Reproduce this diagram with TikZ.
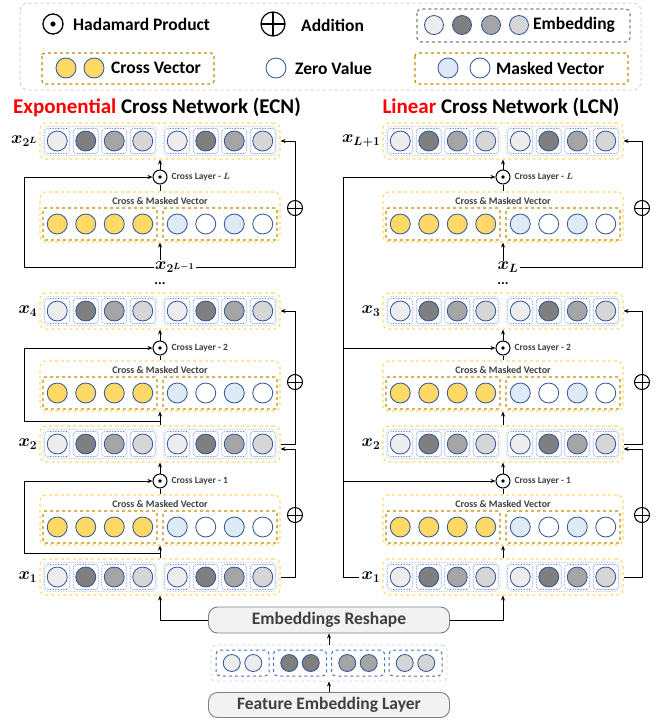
\documentclass[tikz,border=0pt]{standalone}
\usepackage{fontspec}
\setmainfont{Carlito}
\usetikzlibrary{arrows.meta}

\definecolor{gA}{HTML}{EDEDED}
\definecolor{gB}{HTML}{7F7F7F}
\definecolor{gC}{HTML}{A5A5A5}
\definecolor{gD}{HTML}{D6D6D6}
\definecolor{cyel}{HTML}{FFD966}
\definecolor{cblu}{HTML}{DEEBF7}
\definecolor{rim}{HTML}{2F5597}
\definecolor{dotblu}{HTML}{4472C4}
\definecolor{boxgold}{HTML}{BF9000}
\definecolor{boxgray}{HTML}{BFBFBF}
\definecolor{txtgray}{HTML}{404040}

\tikzset{
  unit/.style={circle, draw=rim, line width=0.8pt, minimum size=20pt, inner sep=0pt},
  cell/.style={draw=dotblu, densely dotted, line width=0.6pt, rounded corners=3pt, minimum size=25pt, inner sep=0pt},
  half/.style={draw=boxgray, densely dotted, line width=0.6pt, rounded corners=4pt, minimum width=114pt, minimum height=29pt, inner sep=0pt},
  rowbox/.style={draw=cyel, dashed, line width=1.1pt, rounded corners=6pt, minimum width=240pt, minimum height=36pt, inner sep=0pt},
  crossbox/.style={rowbox, minimum height=50pt},
  goldbox/.style={draw=boxgold, dashed, line width=1.2pt, rounded corners=2pt, minimum width=114pt, minimum height=32pt, inner sep=0pt},
  hada/.style={circle, draw, line width=1pt, minimum size=14pt, inner sep=0pt, fill=white,
    path picture={\fill[black] (path picture bounding box.center) circle (1.8pt);}},
  plus/.style={circle, draw, line width=1pt, minimum size=15pt, inner sep=0pt, fill=white,
    path picture={\draw[black] (path picture bounding box.north) -- (path picture bounding box.south)
      (path picture bounding box.west) -- (path picture bounding box.east);}},
  layertag/.style={anchor=west, inner sep=1pt, text=txtgray, font=\fontsize{9.5}{11}\selectfont\bfseries\boldmath},
  masktag/.style={text=txtgray, font=\fontsize{10}{11}\selectfont\bfseries},
  xlab/.style={inner sep=2pt, font=\fontsize{18.5}{20}\selectfont\boldmath},
  title/.style={font=\fontsize{21}{24}\selectfont\bfseries},
  legtxt/.style={anchor=west, inner sep=1pt, font=\fontsize{17.5}{20}\selectfont\bfseries},
  slab/.style={draw=gray, fill=black!5, line width=0.9pt, rounded corners=9pt, minimum width=241pt,
    minimum height=26pt, text=txtgray, font=\fontsize{17.5}{20}\selectfont\bfseries},
  flow/.style={line width=1pt, -{Stealth[length=5pt,width=4pt]}},
  link/.style={line width=1pt}
}

\newcommand{\embrow}[3]{%
  \node[rowbox] (#1) at (#2,#3) {};
  \node[half] (#1-hl) at (#2-60,#3) {};
  \node[half] (#1-hr) at (#2+60,#3) {};
  \foreach \dx/\fc [count=\i] in {-102.75/gA,-74.25/gB,-45.75/gC,-17.25/gD,17.25/gA,45.75/gB,74.25/gC,102.75/gD}{
    \node[cell] (#1-s\i) at (#2+\dx,#3) {};
    \node[unit, fill=\fc] (#1-\i) at (#2+\dx,#3) {};
  }
}
\newcommand{\crossrow}[3]{%
  \node[crossbox] (#1) at (#2,#3) {};
  \node[masktag] (#1-t) at (#2,#3-16) {Cross \& Masked Vector};
  \node[goldbox] (#1-a) at (#2-60,#3+7) {};
  \node[goldbox] (#1-b) at (#2+60,#3+7) {};
  \foreach \dx/\fc [count=\i] in {-102.75/cyel,-74.25/cyel,-45.75/cyel,-17.25/cyel,17.25/cblu,45.75/white,74.25/cblu,102.75/white}{
    \node[unit, fill=\fc] (#1-\i) at (#2+\dx,#3+7) {};
  }
}

\begin{document}
\begin{tikzpicture}[x=1pt,y=-1pt]
\useasboundingbox (0,0) rectangle (657,724);

% legend
\draw[boxgray!70, dashed, line width=1pt, rounded corners=8pt] (20,3) rectangle (641,90);
\node[hada, minimum size=20pt, line width=1.3pt, path picture={\fill[black] (path picture bounding box.center) circle (2.6pt);}] (hadL) at (53,24) {};
\node[legtxt] (hadT) at (72,24) {Hadamard Product};
\node[plus, minimum size=24pt, line width=1.2pt] (addL) at (273,24) {};
\node[legtxt] (addT) at (300,25) {Addition};
\draw[gB, dashed, line width=1.2pt, rounded corners=4pt] (417,9) rectangle (630,42);
\foreach \px/\fc [count=\i] in {434/gA,462/gB,491/gC,519/gD}
  \node[unit, fill=\fc, minimum size=19pt] (embL\i) at (\px,25) {};
\node[legtxt] (embT) at (532,25) {Embedding};
\draw[boxgold, dashed, line width=1.2pt, rounded corners=3pt] (42,53) rectangle (214,84);
\foreach \px [count=\i] in {66,94}
  \node[unit, fill=cyel] (crsL\i) at (\px,68) {};
\node[legtxt] (crsT) at (110,68) {Cross Vector};
\node[unit, fill=white] (zerL) at (276,68) {};
\node[legtxt] (zerT) at (294,68) {Zero Value};
\draw[boxgold, dashed, line width=1.2pt, rounded corners=3pt] (415,53) rectangle (628,84);
\node[unit, fill=cblu] (mskL1) at (448,68) {};
\node[unit, fill=white] (mskL2) at (480,68) {};
\node[legtxt] (mskT) at (495,68) {Masked Vector};

% exponential cross network
\node[title] (ecnT) at (157,107) {\textcolor{red}{Exponential} Cross Network (ECN)};
\embrow{eL}{160}{141}
\node[xlab, anchor=east] (eLx) at (eL.west) {$x_{2^L}$};
\node[hada] (ehL) at (160,177) {};
\node[layertag] (ehLt) at ([xshift=3pt]ehL.east) {Cross Layer - $L$};
\crossrow{ecL}{160}{217}
\node[xlab, inner sep=1pt] (exin) at (175,267) {$x_{2^{L-1}}$};
\node[inner sep=0pt, font=\fontsize{14}{14}\selectfont\bfseries] (edots) at (160,284) {...};
\embrow{e4}{160}{311}
\node[xlab, anchor=east] (e4x) at (e4.west) {$x_4$};
\node[hada] (eh2) at (160,348) {};
\node[layertag] (eh2t) at ([xshift=3pt]eh2.east) {Cross Layer - 2};
\crossrow{ec2}{160}{386}
\embrow{e2}{160}{444}
\node[xlab, anchor=east] (e2x) at (e2.west) {$x_2$};
\node[hada] (eh1) at (160,481) {};
\node[layertag] (eh1t) at ([xshift=3pt]eh1.east) {Cross Layer - 1};
\crossrow{ec1}{160}{520}
\embrow{e1}{160}{577}
\node[xlab, anchor=east] (e1x) at (e1.west) {$x_1$};
\node[plus] (epL) at (295,208) {};
\node[plus] (ep2) at (295,382) {};
\node[plus] (ep1) at (295,515) {};
\coordinate (ebus) at (24,267);
\coordinate (ej2) at (160,421);
\coordinate (ej1) at (160,553);

\draw[flow] (ehL) -- (eL);
\draw[link] (ecL) -- (ehL);
\draw[flow] (exin.north -| ecL.south) -- (ecL.south);
\draw[flow] (exin.west) -- (ebus) |- (ehL.west);
\draw[link] (exin.east) -| (epL);
\draw[flow] (epL) |- (eL.east);
\draw[flow] (eh2) -- (e4);
\draw[link] (ec2) -- (eh2);
\draw[flow] (e2) -- (ec2);
\draw[flow] (ej2) -- (ej2 -| ebus) |- (eh2.west);
\draw[link] (e2.east) -| (ep2);
\draw[flow] (ep2) |- (e4.east);
\draw[flow] (eh1) -- (e2);
\draw[link] (ec1) -- (eh1);
\draw[flow] (e1) -- (ec1);
\draw[flow] (ej1) -- (ej1 -| ebus) |- (eh1.west);
\draw[link] (e1.east) -| (ep1);
\draw[flow] (ep1) |- ([yshift=-5pt]e2.east);

% linear cross network
\node[title] (lcnT) at (501,107) {\textcolor{red}{Linear} Cross Network (LCN)};
\embrow{lL}{503}{141}
\node[xlab, anchor=east] (lLx) at (lL.west) {$x_{L+1}$};
\node[hada] (lhL) at (503,177) {};
\node[layertag] (lhLt) at ([xshift=3pt]lhL.east) {Cross Layer - $L$};
\crossrow{lcL}{503}{217}
\node[xlab, inner sep=1pt] (lxin) at (508,267) {$x_L$};
\node[inner sep=0pt, font=\fontsize{14}{14}\selectfont\bfseries] (ldots) at (503,284) {...};
\embrow{l3}{503}{311}
\node[xlab, anchor=east] (l3x) at (l3.west) {$x_3$};
\node[hada] (lh2) at (503,348) {};
\node[layertag] (lh2t) at ([xshift=3pt]lh2.east) {Cross Layer - 2};
\crossrow{lc2}{503}{386}
\embrow{l2}{503}{444}
\node[xlab, anchor=east] (l2x) at (l2.west) {$x_2$};
\node[hada] (lh1) at (503,481) {};
\node[layertag] (lh1t) at ([xshift=3pt]lh1.east) {Cross Layer - 1};
\crossrow{lc1}{503}{520}
\embrow{l1}{503}{577}
\node[xlab, anchor=east] (l1x) at (l1.west) {$x_1$};
\node[plus] (lpL) at (642,208) {};
\node[plus] (lp2) at (642,382) {};
\node[plus] (lp1) at (642,515) {};
\coordinate (lbus) at (343,577);

\draw[flow] (lhL) -- (lL);
\draw[link] (lcL) -- (lhL);
\draw[flow] (lxin.north -| lcL.south) -- (lcL.south);
\draw[link] (lxin.east) -| (lpL);
\draw[flow] (lpL) |- (lL.east);
\draw[flow] (lh2) -- (l3);
\draw[link] (lc2) -- (lh2);
\draw[flow] (l2) -- (lc2);
\draw[link] (l2.east) -| (lp2);
\draw[flow] (lp2) |- (l3.east);
\draw[flow] (lh1) -- (l2);
\draw[link] (lc1) -- (lh1);
\draw[flow] (l1) -- (lc1);
\draw[link] (l1.east) -| (lp1);
\draw[flow] (lp1) |- ([yshift=-5pt]l2.east);
\draw[flow] (l1x.west) -- (lbus) |- (lhL.west);
\draw[flow] (lbus |- lh2) -- (lh2.west);
\draw[flow] (lbus |- lh1) -- (lh1.west);

% input
\node[slab] (reshape) at (329,620) {Embeddings Reshape};
\node[draw=boxgray!70, dashed, line width=0.9pt, rounded corners=4pt, minimum width=236pt, minimum height=36pt] (emb) at (329,663) {};
\foreach \gx/\fc [count=\i] in {-86.5/gA,-29/gB,29/gC,86.5/gD}{
  \node[draw=dotblu, dashed, line width=1pt, rounded corners=4pt, minimum width=53pt, minimum height=26pt] (emb-g\i) at (329+\gx,663) {};
  \node[unit, fill=\fc, minimum size=17pt] (emb-a\i) at (329+\gx-10.75,663) {};
  \node[unit, fill=\fc, minimum size=17pt] (emb-b\i) at (329+\gx+10.75,663) {};
}
\node[slab, minimum height=25pt] (feat) at (329,705) {Feature Embedding Layer};
\draw[flow] (feat) -- (emb);
\draw[flow] (emb) -- (reshape);
\draw[flow] (reshape.west) -| (e1);
\draw[flow] (reshape.east) -| (l1);
\end{tikzpicture}
\end{document}
